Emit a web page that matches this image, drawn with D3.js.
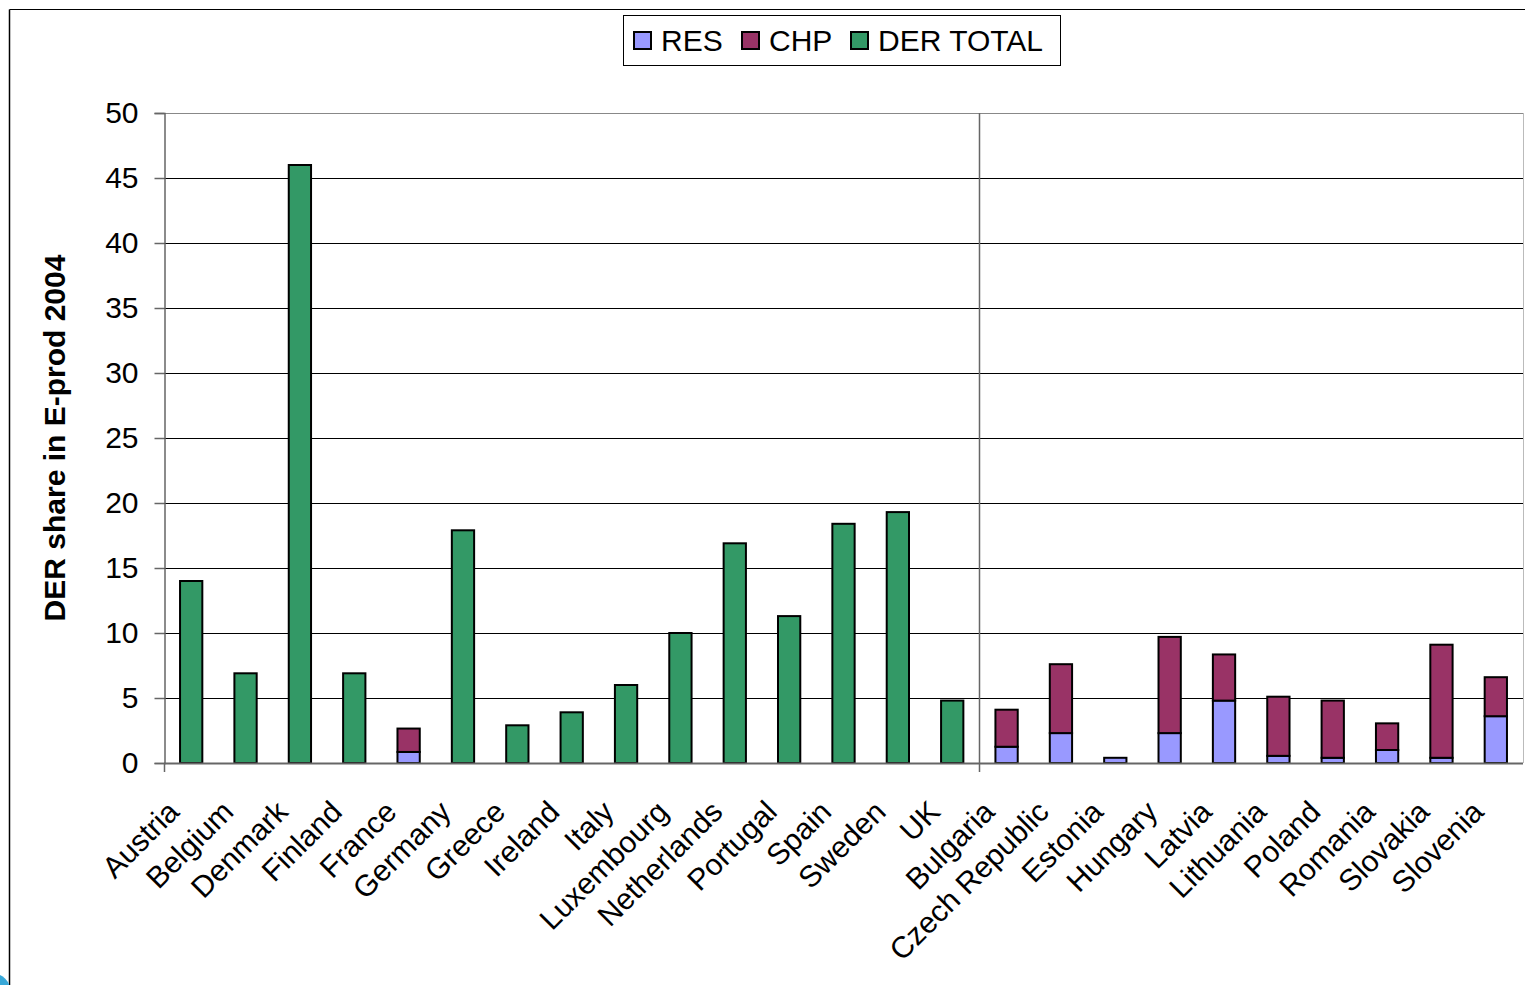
<!DOCTYPE html>
<html><head><meta charset="utf-8">
<script src="https://cdn.jsdelivr.net/npm/d3@7"></script>
<style>body{margin:0;background:#fff;}svg{display:block;font-family:"Liberation Sans",Arial,sans-serif;}</style>
</head><body>
<svg id="c" width="1525" height="985"></svg>
<script>
const categories = ["Austria","Belgium","Denmark","Finland","France","Germany","Greece","Ireland","Italy","Luxembourg","Netherlands","Portugal","Spain","Sweden","UK","Bulgaria","Czech Republic","Estonia","Hungary","Latvia","Lithuania","Poland","Romania","Slovakia","Slovenia"];
const resValues = [0,0,0,0,0.85,0,0,0,0,0,0,0,0,0,0,1.25,2.3,0.4,2.3,4.8,0.55,0.4,1.0,0.4,3.6];
const chpValues = [0,0,0,0,1.8,0,0,0,0,0,0,0,0,0,0,2.85,5.3,0,7.4,3.55,4.55,4.4,2.05,8.7,3.0];
const derTotalValues = [14,6.9,46,6.9,0,17.9,2.9,3.9,6.0,10,16.9,11.3,18.4,19.3,4.8,0,0,0,0,0,0,0,0,0,0];
const yTicks = [0,5,10,15,20,25,30,35,40,45,50];
const seriesNames = ["RES","CHP","DER TOTAL"];
const seriesColors = ["#9999ff","#993366","#339966"];

const svg = d3.select("#c");
// outer frame
svg.append("line").attr("x1",9.5).attr("x2",9.5).attr("y1",9.5).attr("y2",985).attr("stroke","#000").attr("stroke-width",1.5);
svg.append("line").attr("x1",9.5).attr("x2",1525).attr("y1",9.5).attr("y2",9.5).attr("stroke","#000").attr("stroke-width",1);
svg.append("circle").attr("cx",-6).attr("cy",990).attr("r",16).attr("fill","#38a8d8");

const L=164, R=1523, T=113, B=763;
const x = d3.scaleBand().domain(categories).range([L,R]).paddingInner(0.59).paddingOuter(0.295);
const y = d3.scaleLinear().domain([0,50]).range([B,T]);

// gridlines
svg.append("g").selectAll("line").data(yTicks.filter(d=>d>0)).join("line")
  .attr("x1",L).attr("x2",R).attr("y1",d=>Math.round(y(d))+0.5).attr("y2",d=>Math.round(y(d))+0.5)
  .attr("stroke",d=>d===50?"#888":"#000").attr("stroke-width",1);
// right border
svg.append("line").attr("x1",R+0.5).attr("x2",R+0.5).attr("y1",T).attr("y2",B).attr("stroke","#bbb");

// separator between EU15 and new members
const sepX = Math.round((x("UK")+x.bandwidth()+x("Bulgaria"))/2)+0.5;
svg.append("line").attr("x1",sepX).attr("x2",sepX).attr("y1",T).attr("y2",B+9).attr("stroke","#666").attr("stroke-width",1.5);

// stacked data
const rows = categories.map((c,i)=>({cat:c, RES:resValues[i], CHP:chpValues[i], "DER TOTAL":derTotalValues[i]}));
const stack = d3.stack().keys(seriesNames)(rows);
const gb = svg.append("g");
stack.forEach((s,si)=>{
  gb.append("g").selectAll("rect").data(s.filter(d=>d[1]-d[0]>0)).join("rect")
    .attr("x",d=>x(d.data.cat)).attr("width",x.bandwidth())
    .attr("y",d=>y(d[1])).attr("height",d=>y(d[0])-y(d[1]))
    .attr("fill",seriesColors[si]).attr("stroke","#000").attr("stroke-width",2);
});

// y axis
const ya = svg.append("g").attr("transform",`translate(${L+0.5},0)`)
  .call(d3.axisLeft(y).tickValues(yTicks).tickSize(10).tickPadding(16));
ya.select(".domain").attr("stroke","#666").attr("stroke-width",1.5);
ya.selectAll(".tick line").attr("stroke","#666").attr("stroke-width",1.5);
ya.selectAll("text").attr("font-size",30).attr("fill","#000").attr("font-family","Liberation Sans, Arial, sans-serif");

// x axis baseline
svg.append("line").attr("x1",L).attr("x2",R).attr("y1",B+0.5).attr("y2",B+0.5).attr("stroke","#666").attr("stroke-width",2);
svg.append("line").attr("x1",L+0.5).attr("x2",L+0.5).attr("y1",B).attr("y2",B+9).attr("stroke","#666").attr("stroke-width",1.5);

// x labels
svg.append("g").selectAll("text").data(categories).join("text")
  .attr("transform",d=>`translate(${x(d)+x.bandwidth()/2-16},${B+45}) rotate(-45)`)
  .attr("text-anchor","end").attr("dominant-baseline","middle")
  .attr("font-size",30).attr("fill","#000").text(d=>d);

// y title
svg.append("text").attr("transform",`translate(65,438) rotate(-90)`)
  .attr("text-anchor","middle").attr("font-size",30).attr("font-weight","bold").text("DER share in E-prod 2004");

// legend
const lg = svg.append("g");
lg.append("rect").attr("x",623.5).attr("y",15.5).attr("width",437).attr("height",50).attr("fill","#fff").attr("stroke","#000").attr("stroke-width",1);
const legX = [634, 742, 851];
seriesNames.forEach((n,i)=>{
  lg.append("rect").attr("x",legX[i]).attr("y",32).attr("width",17).attr("height",17).attr("fill",seriesColors[i]).attr("stroke","#000").attr("stroke-width",2);
  lg.append("text").attr("x",legX[i]+27).attr("y",51).attr("font-size",30).attr("fill","#000").text(n);
});
</script>
</body></html>
